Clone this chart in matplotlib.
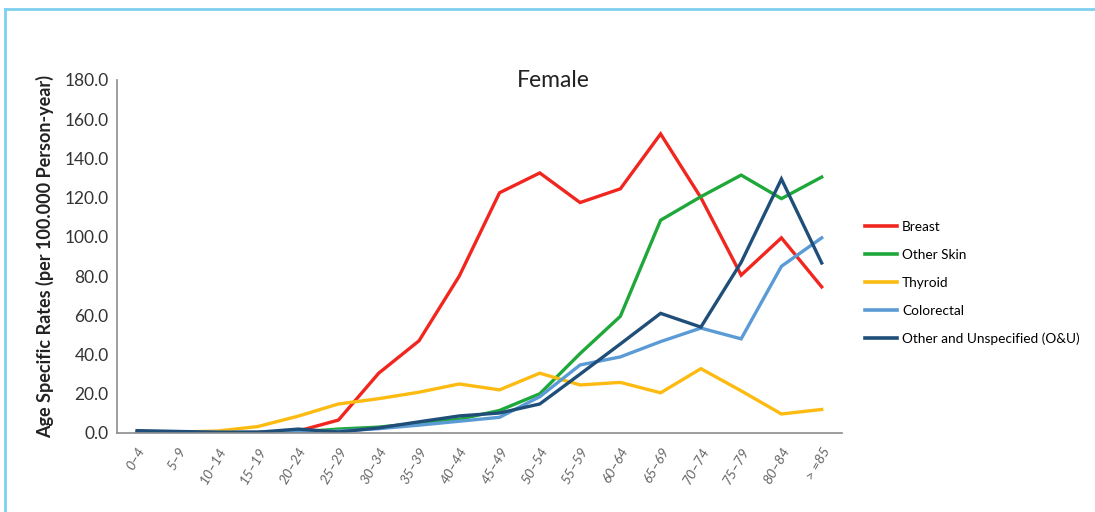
import matplotlib
matplotlib.use("Agg")
import matplotlib.pyplot as plt
from matplotlib.lines import Line2D

plt.rcParams['font.family'] = ['Lato', 'DejaVu Sans']

ages = ["0–4", "5–9", "10–14", "15–19", "20–24", "25–29", "30–34", "35–39", "40–44",
        "45–49", "50–54", "55–59", "60–64", "65–69", "70–74", "75–79", "80–84", "> =85"]

breast = [0.3, 0.2, 0.2, 0.3, 1.0, 6.6, 30.5, 47, 80, 122.5, 132.6, 117.5, 124.5, 152.5, 120, 80.5, 99.5, 74.5]
other_skin = [0.2, 0.2, 0.2, 0.3, 0.5, 2.0, 3.0, 5.0, 7.0, 11.5, 20, 40.5, 59.5, 108.5, 120.5, 131.5, 119.5, 130.5]
thyroid = [0.5, 0.5, 1.0, 3.3, 8.6, 14.8, 17.5, 20.8, 25, 22, 30.5, 24.5, 25.8, 20.5, 32.8, 21.5, 9.7, 12]
colorectal = [0.5, 0.4, 0.3, 0.3, 0.5, 1.0, 2.2, 4.0, 6.0, 8.0, 18.5, 34.7, 38.8, 46.6, 53.5, 48, 85, 99.5]
other_unspec = [1.2, 0.8, 0.4, 0.4, 2.0, 0.5, 2.6, 5.7, 8.7, 10.2, 14.8, 30, 45.4, 61, 54, 87, 129.5, 86.7]

series = [
    ("Breast", breast, "#f0261f"),
    ("Other Skin", other_skin, "#1fa83a"),
    ("Thyroid", thyroid, "#fdbb12"),
    ("Colorectal", colorectal, "#5b9bd5"),
    ("Other and Unspecified (O&U)", other_unspec, "#1f4e79"),
]

fig = plt.figure(figsize=(10.95, 5.12), dpi=100)
ax = fig.add_axes([0.1068, 0.1543, 0.662, 0.6895])

x = list(range(len(ages)))
for name, vals, col in series:
    ax.plot(x, vals, color=col, lw=2.4, label=name, solid_joinstyle="miter")

ax.set_xlim(-0.5, 17.5)
ax.set_ylim(0, 180)
ax.set_yticks(range(0, 181, 20))
ax.set_yticklabels([f"{v:.1f}" for v in range(0, 181, 20)], fontsize=12.5, color="#333333")
ax.set_xticks(x)
ax.set_xticklabels(ages, rotation=60, fontsize=10, color="#666666", style="italic",
                   ha="right", va="top", rotation_mode="anchor")
ax.tick_params(axis="both", length=0, pad=6)
ax.tick_params(axis="x", pad=9)
for s in ["top", "right"]:
    ax.spines[s].set_visible(False)
ax.spines["left"].set_color("#8c8c8c")
ax.spines["bottom"].set_color("#8c8c8c")
ax.spines["left"].set_linewidth(1.2)
ax.spines["bottom"].set_linewidth(1.2)

fig.text(0.505, 0.843, "Female", fontsize=16.5, color="#222222", ha="center", va="center")
fig.text(0.041, 0.5, "Age Specific Rates (per 100.000 Person-year)", rotation=90,
         fontsize=13, fontweight="bold", color="#222222", ha="center", va="center")

handles = [Line2D([0], [0], color=c, lw=2.6) for _, _, c in series]
fig.legend(handles, [n for n, _, _ in series], loc="upper left",
           bbox_to_anchor=(0.779, 0.592), frameon=False, fontsize=9.8,
           handlelength=2.3, labelspacing=1.16, handletextpad=0.4)

# light blue frame at top and left
fig.add_artist(Line2D([0.0045, 1.0], [0.982, 0.982], color="#7fd0ef", lw=2.0))
fig.add_artist(Line2D([0.0045, 0.0045], [0.0, 0.982], color="#7fd0ef", lw=2.0))

fig.savefig("out.png", dpi=100)
